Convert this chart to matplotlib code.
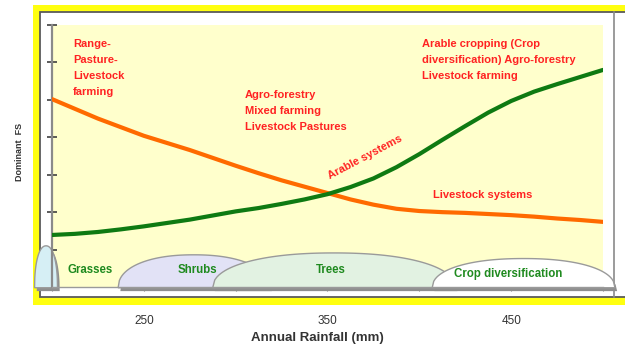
import matplotlib
matplotlib.use("Agg")
import matplotlib.pyplot as plt
import numpy as np
from matplotlib.patches import Rectangle, Polygon
from matplotlib.lines import Line2D

# ---------------- data ----------------
rainfall = [200, 212.5, 225, 237.5, 250, 262.5, 275, 287.5, 300, 312.5, 325, 337.5, 350,
            362.5, 375, 387.5, 400, 412.5, 425, 437.5, 450, 462.5, 475, 487.5, 500]
livestock_systems = [5.02, 4.76, 4.50, 4.27, 4.04, 3.85, 3.66, 3.45, 3.24, 3.04, 2.85, 2.68, 2.51,
                     2.34, 2.20, 2.09, 2.03, 2.00, 1.98, 1.95, 1.92, 1.88, 1.83, 1.79, 1.74]
arable_systems = [1.39, 1.42, 1.47, 1.54, 1.62, 1.71, 1.80, 1.91, 2.02, 2.11, 2.22, 2.34, 2.48,
                  2.67, 2.90, 3.20, 3.55, 3.93, 4.30, 4.66, 4.97, 5.22, 5.42, 5.61, 5.80]

zone_names = ["Grasses", "Shrubs", "Trees", "Crop diversification"]
zone_start = [190.5, 236.0, 287.5, 407.0]
zone_end = [203.0, 318.5, 419.5, 506.5]
zone_height = [1.12, 0.88, 0.93, 0.78]

xticks = [200, 250, 300, 350, 400, 450, 500]
xtick_labels = ["", "250", "", "350", "", "450", ""]
yticks = [0, 1, 2, 3, 4, 5, 6, 7]

W, H = 625, 349
plt.rcParams['font.family'] = ['Liberation Sans', 'DejaVu Sans']

fig = plt.figure(figsize=(W / 100, H / 100), dpi=100)
fig.patch.set_facecolor("white")


def fx(px):
    return px / W


def fy(py):
    return 1 - py / H


def frect(x0, y0, x1, y1, **kw):
    r = Rectangle((fx(x0), fy(y1)), fx(x1) - fx(x0), fy(y0) - fy(y1),
                  transform=fig.transFigure, **kw)
    fig.add_artist(r)
    return r


# frame: yellow border, white inner panel
frect(33, 5, 700, 305, facecolor="#FFFF10", edgecolor="none", zorder=-2)
frect(39.5, 12, 700, 297, facecolor="white", edgecolor="#5A5A5A", lw=1.3, zorder=-1.9)
fig.add_artist(Line2D([fx(614), fx(614)], [fy(12), fy(297)], transform=fig.transFigure,
                      color="#8A8A8A", lw=1.2, zorder=-1.8))

ax = fig.add_axes([fx(52), fy(287), fx(603) - fx(52), fy(25) - fy(287)])
ax.set_zorder(1)
ax.set_facecolor("#FFFFCC")
ax.set_xlim(200, 500)
ax.set_ylim(0, 7)

ax.plot(rainfall, livestock_systems, color="#FF6A00", lw=3.0, solid_capstyle="round",
        solid_joinstyle="round", zorder=5)
ax.plot(rainfall, arable_systems, color="#0E7A12", lw=3.0, solid_capstyle="round",
        solid_joinstyle="round", zorder=5)

# vegetation zones (domes)
fills = ["#D6EFF5", "#E2E2F6", "#E2F2E2", "#FFFFFF"]
for i, name in enumerate(zone_names):
    x0, x1, h = zone_start[i], zone_end[i], zone_height[i]
    t = np.linspace(0, 1, 120)
    u = 2 * t - 1
    xs = x0 + (x1 - x0) * t
    ys = h * (1 - np.abs(u) ** 2.2) ** (1 / 2.2)
    base = -0.02
    pts = np.column_stack([np.r_[xs, x1, x0], np.r_[ys + base, base, base]])
    shadow = pts.copy()
    shadow[:, 0] += 1.2
    shadow[:, 1] -= 0.09
    ax.add_patch(Polygon(shadow, closed=True, facecolor="#8E8E8E", edgecolor="none",
                         clip_on=False, zorder=2 + i * 0.1))
    ax.add_patch(Polygon(pts, closed=True, facecolor=fills[i], edgecolor="#9A9A9A", lw=1.0,
                         clip_on=False, zorder=2.05 + i * 0.1))

green_txt = "#1F8A1F"
gkw = dict(color=green_txt, fontsize=8.3, fontweight="bold", ha="center", va="center", zorder=6)
ax.text(220.5, 0.45, "Grasses", **gkw)
ax.text(279, 0.45, "Shrubs", **gkw)
ax.text(352, 0.45, "Trees", **gkw)
ax.text(448.5, 0.35, "Crop diversification", **gkw)

# axes styling
for s in ["top", "right"]:
    ax.spines[s].set_visible(False)
ax.spines["left"].set_color("#8A8A8A")
ax.spines["left"].set_linewidth(1.6)
ax.spines["bottom"].set_color("#9A9A9A")
ax.spines["bottom"].set_linewidth(1.0)
ax.set_yticks(yticks)
ax.set_yticklabels([])
ax.tick_params(axis="y", direction="inout", length=7, width=1.2, color="#404040")
ax.set_xticks(xticks)
ax.set_xticklabels(xtick_labels)
ax.tick_params(axis="x", direction="out", length=3, width=0.8, color="#808080",
               pad=17, labelsize=8.5, labelcolor="#333333")

red = "#FF2222"
fkw = dict(transform=fig.transFigure, color=red, fontsize=8, fontweight="bold",
           ha="left", va="center", linespacing=1.78, zorder=10)
fig.text(fx(73), fy(68), "Range-\nPasture-\nLivestock\nfarming", **fkw)
fig.text(fx(245), fy(111), "Agro-forestry\nMixed farming\nLivestock Pastures", **fkw)
fig.text(fx(422), fy(60), "Arable cropping (Crop\ndiversification) Agro-forestry\nLivestock farming", **fkw)
fig.text(fx(433), fy(195), "Livestock systems", **fkw)
fig.text(fx(365), fy(157), "Arable systems", transform=fig.transFigure, color=red, fontsize=8,
         fontweight="bold", ha="center", va="center", rotation=28, zorder=10)

fig.text(fx(317), fy(338), "Annual Rainfall (mm)", fontsize=9.5, fontweight="bold",
         color="#333333", ha="center", va="center")
fig.text(fx(20), fy(152), "Dominant  FS", fontsize=6.5, fontweight="bold",
         color="#333333", ha="center", va="center", rotation=90)

fig.savefig("out.png", dpi=100)
